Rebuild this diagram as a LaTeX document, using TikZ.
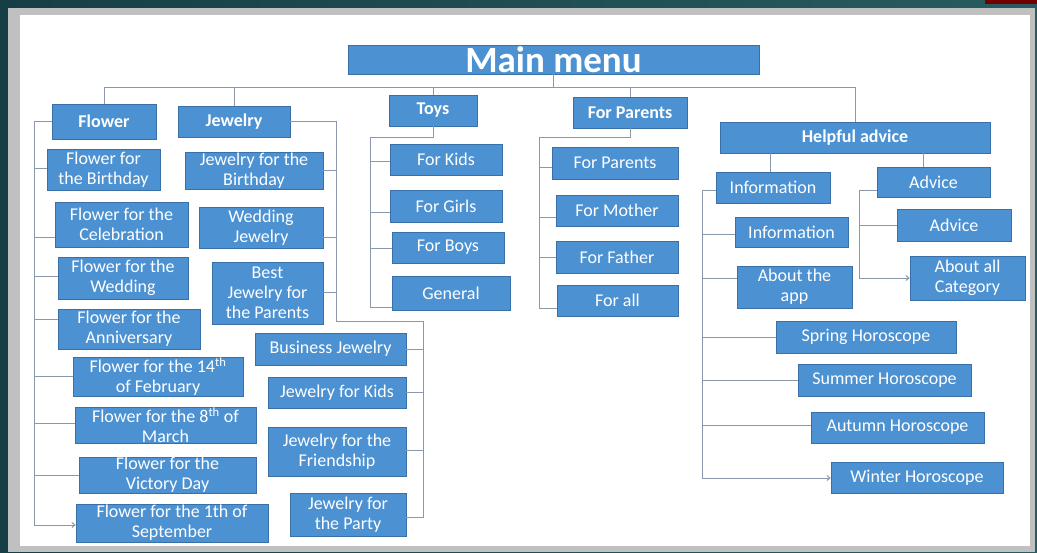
\documentclass[tikz,border=0pt]{standalone}
\usepackage{fontspec}
\setmainfont{Carlito}
\usetikzlibrary{arrows.meta}
\definecolor{boxblue}{RGB}{76,145,210}
\definecolor{boxedge}{RGB}{58,112,168}
\definecolor{connc}{RGB}{138,152,172}
\definecolor{teal1}{RGB}{22,62,70}
\definecolor{teal2}{RGB}{40,92,96}
\definecolor{framegray}{RGB}{192,192,192}
\newcommand\bx[7][]{\node[box,#1,minimum width={(#4-#2)*1pt},minimum height={(#5-#3)*1pt}] (#7) at ({(#2+#4)/2},{(#3+#5)/2}) {#6};}
\tikzset{
  box/.style={draw=boxedge,line width=0.6pt,fill=boxblue,text=white,align=center,inner sep=0pt,
    font=\fontsize{18}{20}\selectfont},
  hdr/.style={font=\fontsize{18}{20}\selectfont\bfseries},
  conn/.style={draw=connc,line width=1pt},
  arr/.style={conn,-{Straight Barb[length=3pt,width=5pt]}}
}
\begin{document}
\begin{tikzpicture}[x=1pt,y=-1pt]
\useasboundingbox (0,0) rectangle (1037,552);
\shade[left color=teal1,right color=teal2] (0,0) rectangle (1037,552);
\fill[red!45!black] (985,0) rectangle (1037,4);
\fill[framegray] (8,8) rectangle (1035,552);
\fill[white] (20,15) rectangle (1030,546);

% top level
\bx[font=\fontsize{37}{39}\selectfont\bfseries]{348}{45}{759}{74}{Main menu}{main}
\bx[hdr]{52}{104}{156}{139}{Flower}{flower}
\bx[hdr]{178}{106}{290}{137}{Jewelry}{jewel}
\bx[hdr]{389}{95}{477}{126}{Toys}{toys}
\bx[hdr]{573}{97}{687}{128}{For Parents}{fpar}
\bx[hdr]{720}{122}{990}{153}{Helpful advice}{help}

\coordinate (bus) at (0,87);
\draw[conn] (main.south) -- (main.south |- bus);
\draw[conn] (flower.north) -- (flower.north |- bus) -- (help.north |- bus) -- (help.north);
\draw[conn] (jewel.north |- bus) -- (jewel.north);
\draw[conn] (toys.north |- bus) -- (toys.north);
\draw[conn] (fpar.north |- bus) -- (fpar.north);

% Flower
\bx{47}{149}{160}{190}{Flower for\\the Birthday}{fc1}
\bx{55}{202}{188}{247}{Flower for the\\Celebration}{fc2}
\bx{58}{257}{188}{299}{Flower for the\\Wedding}{fc3}
\bx{58}{309}{200}{349}{Flower for the\\Anniversary}{fc4}
\bx{73}{357}{243}{396}{Flower for the 14\textsuperscript{th}\\of February}{fc5}
\bx{75}{407}{256}{443}{Flower for the 8\textsuperscript{th} of\\March}{fc6}
\bx{79}{457}{256}{493}{Flower for the\\Victory Day}{fc7}
\bx{76}{504}{268}{542}{Flower for the 1th of\\September}{fc8}
\coordinate (fb) at (34,0);
\draw[conn] (flower.west) -- (flower.west -| fb) -- (fb |- 0,525);
\draw[arr] (fb |- 0,525) -- (fc8.west |- 0,525);
\draw[conn] (fb |- 0,168) -- (fc1.west |- 0,168);
\draw[conn] (fb |- 0,237) -- (fc2.west |- 0,237);
\draw[conn] (fb |- 0,276) -- (fc3.west |- 0,276);
\draw[conn] (fb |- 0,319) -- (fc4.west |- 0,319);
\draw[conn] (fb |- 0,376) -- (fc5.west |- 0,376);
\draw[conn] (fb |- 0,423) -- (fc6.west |- 0,423);
\draw[conn] (fb |- 0,475) -- (fc7.west |- 0,475);

% Jewelry
\bx{185}{152}{323}{189}{Jewelry for the\\Birthday}{jc1}
\bx{199}{207}{323}{248}{Wedding\\Jewelry}{jc2}
\bx{212}{262}{323}{324}{Best\\Jewelry for\\the Parents}{jc3}
\bx{255}{333}{406}{365}{Business Jewelry}{jc4}
\bx{268}{377}{406}{408}{Jewelry for Kids}{jc5}
\bx{268}{427}{406}{476}{Jewelry for the\\Friendship}{jc6}
\bx{290}{493}{406}{536}{Jewelry for\\the Party}{jc7}
\coordinate (jb1) at (336,321);
\coordinate (jb2) at (423,321);
\draw[conn] (jewel.east) -- (jewel.east -| jb1) -- (jb1) -- (jb2) -- (jb2 |- 0,517) -- (jc7.east |- 0,517);
\draw[conn] (jc1.east |- 0,170) -- (jb1 |- 0,170);
\draw[conn] (jc2.east |- 0,237) -- (jb1 |- 0,237);
\draw[conn] (jc3.east |- 0,292) -- (jb1 |- 0,292);
\draw[conn] (jc4.east |- 0,349) -- (jb2 |- 0,349);
\draw[conn] (jc5.east |- 0,392) -- (jb2 |- 0,392);
\draw[conn] (jc6.east |- 0,450) -- (jb2 |- 0,450);

% Toys
\bx{390}{144}{502}{175}{For Kids}{tc1}
\bx{390}{190}{502}{222}{For Girls}{tc2}
\bx{392}{232}{504}{263}{For Boys}{tc3}
\bx{392}{276}{510}{310}{General}{tc4}
\coordinate (tb) at (370,137);
\draw[conn] (toys.south) -- (toys.south |- tb) -- (tb) -- (tb |- 0,307) -- (tc4.west |- 0,307);
\draw[conn] (tb |- 0,161) -- (tc1.west |- 0,161);
\draw[conn] (tb |- 0,212) -- (tc2.west |- 0,212);
\draw[conn] (tb |- 0,248) -- (tc3.west |- 0,248);

% For Parents
\bx{552}{147}{678}{179}{For Parents}{pc1}
\bx{556}{195}{678}{226}{For Mother}{pc2}
\bx{556}{241}{678}{273}{For Father}{pc3}
\bx{557}{285}{678}{316}{For all}{pc4}
\coordinate (pb) at (539,137);
\draw[conn] (fpar.south) -- (fpar.south |- pb) -- (pb) -- (pb |- 0,308) -- (pc4.west |- 0,308);
\draw[conn] (pb |- 0,167) -- (pc1.west |- 0,167);
\draw[conn] (pb |- 0,217) -- (pc2.west |- 0,217);
\draw[conn] (pb |- 0,257) -- (pc3.west |- 0,257);

% Helpful advice
\bx{716}{172}{830}{203}{Information}{info}
\bx{877}{167}{990}{197}{Advice}{adv}
\draw[conn] (help.south -| 770,0) -- (info.north -| 770,0);
\draw[conn] (help.south -| 923,0) -- (adv.north -| 923,0);

\bx{735}{217}{848}{247}{Information}{ic1}
\bx{737}{266}{852}{308}{About the\\app}{ic2}
\bx{776}{321}{956}{353}{Spring Horoscope}{ic3}
\bx{798}{364}{971}{396}{Summer Horoscope}{ic4}
\bx{811}{412}{984}{443}{Autumn Horoscope}{ic5}
\bx{831}{462}{1003}{493}{Winter Horoscope}{ic6}
\coordinate (ib) at (702,190);
\draw[conn] (info.west |- ib) -- (ib) -- (ib |- 0,478);
\draw[arr] (ib |- 0,478) -- (ic6.west |- 0,478);
\draw[conn] (ib |- 0,234) -- (ic1.west |- 0,234);
\draw[conn] (ib |- 0,278) -- (ic2.west |- 0,278);
\draw[conn] (ib |- 0,337) -- (ic3.west |- 0,337);
\draw[conn] (ib |- 0,380) -- (ic4.west |- 0,380);
\draw[conn] (ib |- 0,425) -- (ic5.west |- 0,425);

\bx{897}{209}{1011}{241}{Advice}{ac1}
\bx{910}{256}{1025}{300}{About all\\Category}{ac2}
\coordinate (ab) at (859,190);
\draw[conn] (adv.west |- ab) -- (ab) -- (ab |- 0,278);
\draw[arr] (ab |- 0,278) -- (ac2.west |- 0,278);
\draw[conn] (ab |- 0,225) -- (ac1.west |- 0,225);
\end{tikzpicture}
\end{document}
